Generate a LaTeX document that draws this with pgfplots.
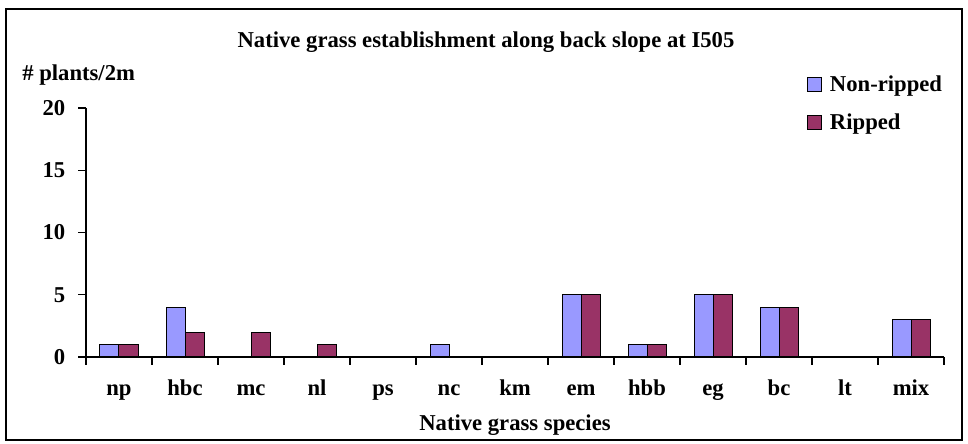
\documentclass[border=0pt]{standalone}
\usepackage{fontspec}
\setmainfont{Liberation Serif}
\usepackage{pgfplots}
\pgfplotsset{compat=1.18}
\definecolor{nonrip}{HTML}{9999FF}
\definecolor{rip}{HTML}{993366}
\newcommand{\lbl}{\fontsize{17}{20}\selectfont\bfseries}

\begin{document}
\begin{tikzpicture}
\useasboundingbox (0pt,0pt) rectangle (726pt,332.25pt);
\draw[line width=1.1pt] (4.5pt,2.25pt) rectangle (721.5pt,325.5pt);
\coordinate (O) at (64.5pt,64.5pt);
\node[font=\lbl] at (364.5pt,300.75pt) {Native grass establishment along back slope at I505};
\node[font=\lbl, anchor=west, inner sep=0pt] at (16.5pt,276pt) {\# plants/2m};
\begin{axis}[
  name=ax,
  at={(O)}, anchor=south west,
  scale only axis, width=643.5pt, height=186.75pt,
  xmin=-0.5, xmax=12.5, ymin=0, ymax=20,
  axis line style={draw=none},
  major tick length=0pt,
  xtick={0,1,...,12},
  xticklabels={np,hbc,mc,nl,ps,nc,km,em,hbb,eg,bc,lt,mix},
  ytick={0,5,10,15,20},
  /pgf/number format/assume math mode=true,
  ticklabel style={font=\lbl},
  xticklabel style={anchor=base, text height=12pt, text depth=4pt, yshift=-29pt},
  yticklabel style={xshift=-12pt},
  xlabel={Native grass species},
  xlabel style={font=\lbl, at={(0.5,0)}, anchor=center, yshift=-51pt},
  legend style={at={(0.840,1.14)}, anchor=north west, draw=none, fill=none,
    font=\lbl, row sep=11pt, column sep=4pt, inner sep=0pt},
  legend cell align=left,
  legend image code/.code={\draw[#1, line width=0.75pt] (0pt,-5.25pt) rectangle (10.5pt,5.25pt);},
  clip=false,
]
\addplot[ybar, bar width=14.25pt, bar shift=-7.125pt, fill=nonrip, draw=black, line width=0.75pt]
  coordinates {(0,1) (1,4) (5,1) (7,5) (8,1) (9,5) (10,4) (12,3)};
\addplot[ybar, bar width=14.25pt, bar shift=7.125pt, fill=rip, draw=black, line width=0.75pt]
  coordinates {(0,1) (1,2) (2,2) (3,1) (7,5) (8,1) (9,5) (10,4) (12,3)};
\legend{Non-ripped, Ripped}
\end{axis}
% axis lines and outside ticks, drawn on the axis box
\draw[line width=0.8pt, black] (ax.north west) -- (ax.south west) -- (ax.south east);
\foreach \k in {0,...,13} {
  \draw[line width=0.9pt, black] ([xshift=\k*49.5pt]ax.south west) -- ++(0pt,-6pt);
}
\foreach \j in {0,...,4} {
  \draw[line width=0.9pt, black] ([yshift=\j*46.6875pt]ax.south west) -- ++(-6pt,0pt);
}
\end{tikzpicture}
\end{document}
